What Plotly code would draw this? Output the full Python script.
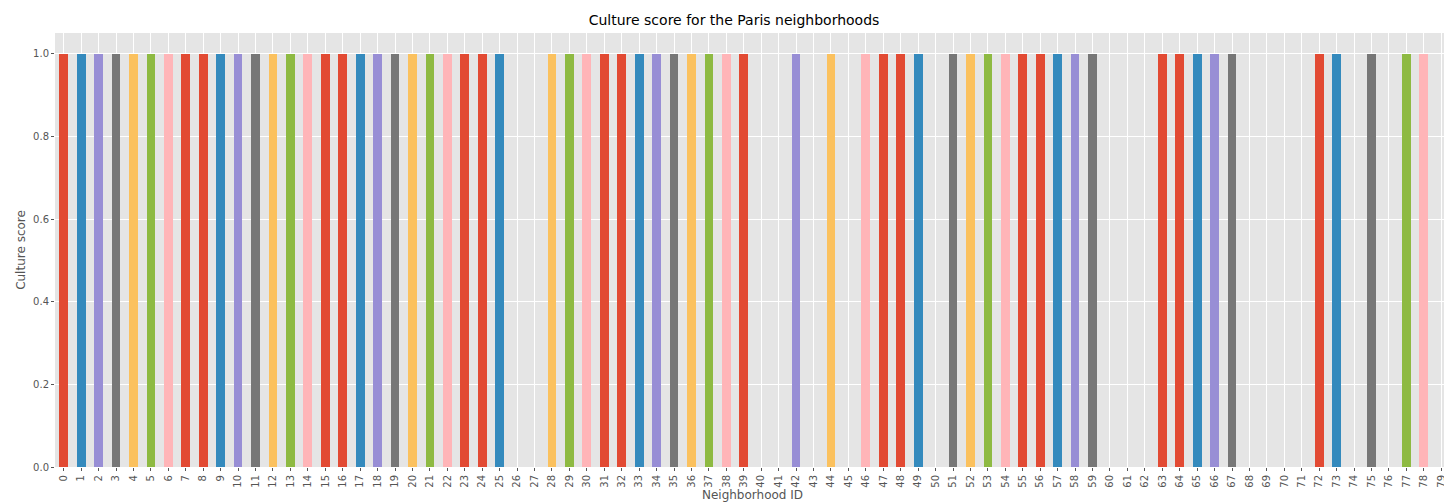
import plotly.graph_objects as go

neighborhood_ids = list(range(80))
zero_ids = [26, 27, 40, 41, 43, 45, 50, 60, 61, 62, 68, 69, 70, 71, 74, 76, 79]
culture_score = [0 if i in zero_ids else 1 for i in neighborhood_ids]

palette = ['#E24A33', '#348ABD', '#988ED5', '#777777',
           '#FBC15E', '#8EBA42', '#FFB5B8', '#E24A33']
colors = [palette[i % len(palette)] for i in neighborhood_ids]

fig = go.Figure(go.Bar(
    x=[str(i) for i in neighborhood_ids],
    y=culture_score,
    marker=dict(color=colors, line=dict(width=0)),
    width=0.5,
))

fig.update_layout(
    width=1452, height=503,
    margin=dict(l=47, r=10, t=25, b=44, autoexpand=False),
    paper_bgcolor='white',
    plot_bgcolor='#E5E5E5',
    font=dict(family='DejaVu Sans', color='#555555', size=10),
    title=dict(text='Culture score for the Paris neighborhoods', x=0.5, y=0.985,
               xanchor='center', yanchor='top', font=dict(size=14, color='black')),
    showlegend=False,
    bargap=0,
)
fig.update_xaxes(
    title=dict(text='Neighborhood ID', font=dict(size=12, color='#555555'), standoff=2),
    tickangle=-90, showgrid=True, gridcolor='white', ticks='outside',
    ticklen=3, tickcolor='#555555', range=[-0.5, 79.5], type='category',
    automargin=False,
)
fig.update_yaxes(
    title=dict(text='Culture score', font=dict(size=12, color='#555555'), standoff=4),
    range=[0, 1.05], tickvals=[0, 0.2, 0.4, 0.6, 0.8, 1.0], tickformat='.1f',
    showgrid=True, gridcolor='white', ticks='outside', ticklen=3,
    tickcolor='#555555', zeroline=False, automargin=False,
)

fig.write_html('out.html')
